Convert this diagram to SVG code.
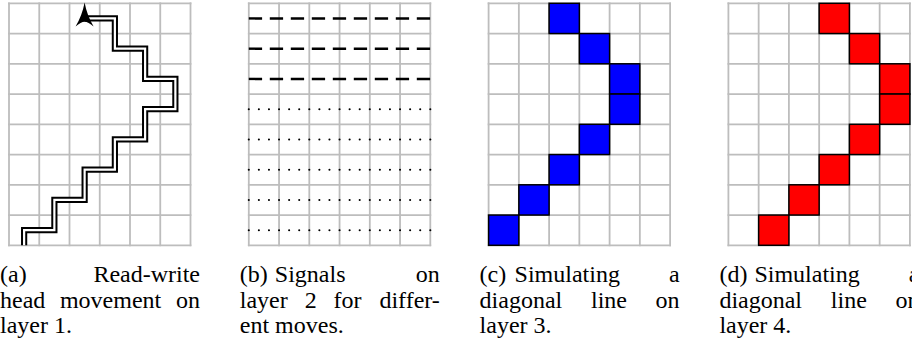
<svg xmlns="http://www.w3.org/2000/svg" xmlns:xlink="http://www.w3.org/1999/xlink" width="912" height="346" viewBox="0 0 912 346">
<style>
.grid line{stroke:#bdbdbd;stroke-width:1.8;stroke-linecap:square}
.dbl-out{fill:none;stroke:#000;stroke-width:6.2;stroke-linejoin:miter}
.dbl-in{fill:none;stroke:#fff;stroke-width:2.2;stroke-linejoin:miter}
.dash{stroke:#000;stroke-width:2.4;stroke-dasharray:13.3 7.7}
.dot{stroke:#000;stroke-width:2.1;stroke-linecap:round;stroke-dasharray:0 10.083}
.blue{fill:#0000ff;stroke:#000;stroke-width:1.5}
.red{fill:#ff0000;stroke:#000;stroke-width:1.5}
text{font-family:"Liberation Serif","Times New Roman",serif;font-size:24px;fill:#000}
.e{text-anchor:end}
.m{text-anchor:middle}
</style>
<defs>
<g id="grid" class="grid">
<line x1="0" y1="0" x2="0" y2="242"/>
<line x1="30.25" y1="0" x2="30.25" y2="242"/>
<line x1="60.5" y1="0" x2="60.5" y2="242"/>
<line x1="90.75" y1="0" x2="90.75" y2="242"/>
<line x1="121" y1="0" x2="121" y2="242"/>
<line x1="151.25" y1="0" x2="151.25" y2="242"/>
<line x1="181.5" y1="0" x2="181.5" y2="242"/>
<line x1="0" y1="0" x2="181.5" y2="0"/>
<line x1="0" y1="30.25" x2="181.5" y2="30.25"/>
<line x1="0" y1="60.5" x2="181.5" y2="60.5"/>
<line x1="0" y1="90.75" x2="181.5" y2="90.75"/>
<line x1="0" y1="121" x2="181.5" y2="121"/>
<line x1="0" y1="151.25" x2="181.5" y2="151.25"/>
<line x1="0" y1="181.5" x2="181.5" y2="181.5"/>
<line x1="0" y1="211.75" x2="181.5" y2="211.75"/>
<line x1="0" y1="242" x2="181.5" y2="242"/>
</g>
<rect id="cell" width="30.25" height="30.25"/>
<path id="head" d="M15.125 242V226.875H45.375V196.625H75.625V166.375H105.875V136.125H136.125V105.875H166.375V75.625H136.125V45.375H105.875V15.125H75.625V16"/>
</defs>

<g id="panel-a" transform="translate(9,3.3)">
<use href="#grid"/>
<use href="#head" class="dbl-out"/>
<use href="#head" class="dbl-in"/>
<path d="M75.6 -0.8Q73.2 12 66.6 23.2Q72 18.6 75.6 18.4Q79.2 18.6 84.6 23.2Q78 12 75.6 -0.8Z" fill="#000"/>
</g>

<g id="panel-b" transform="translate(248.8,3.3)">
<use href="#grid"/>
<line class="dash" x1="0" y1="15.125" x2="181.5" y2="15.125"/>
<line class="dash" x1="0" y1="45.375" x2="181.5" y2="45.375"/>
<line class="dash" x1="0" y1="75.625" x2="181.5" y2="75.625"/>
<line class="dot" x1="0" y1="105.875" x2="181.6" y2="105.875"/>
<line class="dot" x1="0" y1="136.125" x2="181.6" y2="136.125"/>
<line class="dot" x1="0" y1="166.375" x2="181.6" y2="166.375"/>
<line class="dot" x1="0" y1="196.625" x2="181.6" y2="196.625"/>
<line class="dot" x1="0" y1="226.875" x2="181.6" y2="226.875"/>
</g>

<g id="panel-c" transform="translate(488.6,3.3)">
<use href="#grid"/>
<use href="#cell" class="blue" x="60.5" y="0"/>
<use href="#cell" class="blue" x="90.75" y="30.25"/>
<use href="#cell" class="blue" x="121" y="60.5"/>
<use href="#cell" class="blue" x="121" y="90.75"/>
<use href="#cell" class="blue" x="90.75" y="121"/>
<use href="#cell" class="blue" x="60.5" y="151.25"/>
<use href="#cell" class="blue" x="30.25" y="181.5"/>
<use href="#cell" class="blue" x="0" y="211.75"/>
</g>

<g id="panel-d" transform="translate(728.4,3.3)">
<use href="#grid"/>
<use href="#cell" class="red" x="90.75" y="0"/>
<use href="#cell" class="red" x="121" y="30.25"/>
<use href="#cell" class="red" x="151.25" y="60.5"/>
<use href="#cell" class="red" x="151.25" y="90.75"/>
<use href="#cell" class="red" x="121" y="121"/>
<use href="#cell" class="red" x="90.75" y="151.25"/>
<use href="#cell" class="red" x="60.5" y="181.5"/>
<use href="#cell" class="red" x="30.25" y="211.75"/>
</g>

<g id="caption-a">
<text x="0" y="282">(a)</text>
<text class="e" x="200" y="282">Read-write</text>
<text x="0" y="307.7">head</text>
<text class="m" x="110.6" y="307.7">movement</text>
<text class="e" x="200" y="307.7">on</text>
<text x="0" y="333.3">layer 1.</text>
</g>
<g id="caption-b">
<text x="239.8" y="282">(b)</text>
<text x="274.8" y="282">Signals</text>
<text class="e" x="439.8" y="282">on</text>
<text x="239.8" y="307.7">layer</text>
<text x="304.7" y="307.7">2</text>
<text x="333.6" y="307.7">for</text>
<text class="e" x="439.8" y="307.7">differ-</text>
<text x="239.8" y="333.3">ent moves.</text>
</g>
<g id="caption-c">
<text x="479.6" y="282">(c)</text>
<text x="514.6" y="282">Simulating</text>
<text class="e" x="679.6" y="282">a</text>
<text x="479.6" y="307.7">diagonal</text>
<text class="m" x="609" y="307.7">line</text>
<text class="e" x="679.6" y="307.7">on</text>
<text x="479.6" y="333.3">layer 3.</text>
</g>
<g id="caption-d">
<text x="719.4" y="282">(d)</text>
<text x="754.4" y="282">Simulating</text>
<text class="e" x="919.4" y="282">a</text>
<text x="719.4" y="307.7">diagonal</text>
<text class="m" x="848.8" y="307.7">line</text>
<text class="e" x="919.4" y="307.7">on</text>
<text x="719.4" y="333.3">layer 4.</text>
</g>
</svg>
